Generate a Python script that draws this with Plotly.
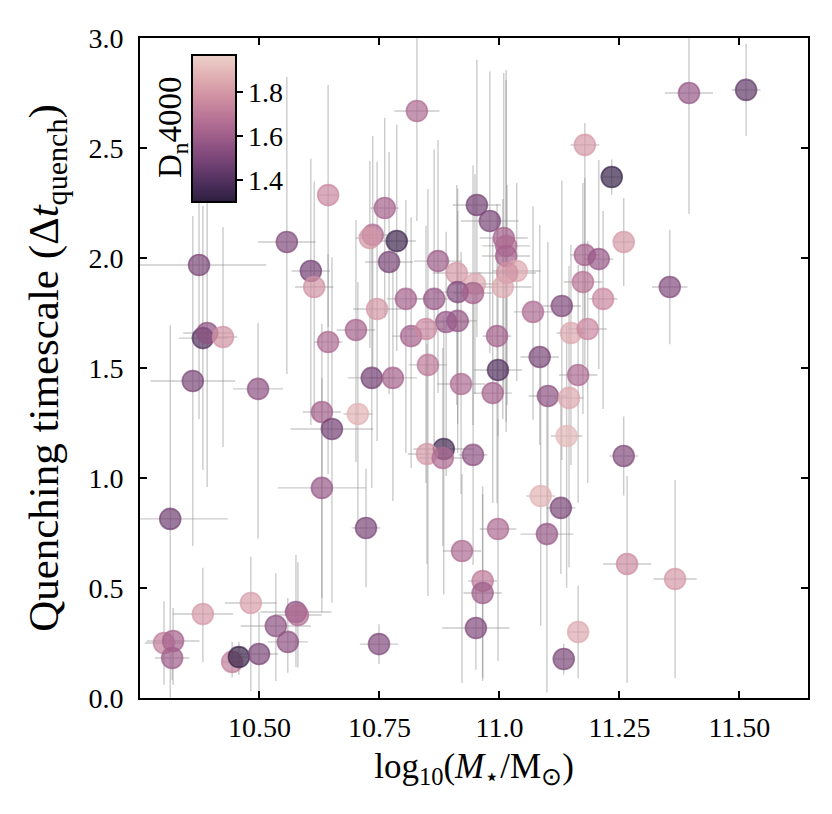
import numpy as np
import plotly.graph_objects as go

# ---- data ----
log_mass = [11.514, 11.395, 11.178, 11.234, 11.259, 11.355, 11.259, 11.266, 11.366, 10.734,
            10.778, 10.851, 10.997, 10.920, 10.986, 11.101, 11.145, 11.164, 11.084, 11.140,
            10.884, 10.849, 10.882, 10.945, 11.086, 11.128, 10.722, 10.997, 11.099, 10.922,
            10.965, 10.965, 10.951, 10.749, 11.134, 11.164, 10.361, 10.497, 10.630, 10.651,
            10.705, 10.630, 10.314, 10.382, 10.482, 10.576, 10.580, 10.534, 10.559, 10.301,
            10.320, 10.318, 10.443, 10.457, 10.499, 10.643, 10.557, 10.374, 10.607, 10.614,
            10.382, 10.391, 10.424, 10.643, 10.701, 10.828, 10.953, 10.980, 11.009, 11.014,
            11.014, 11.036, 11.016, 11.007, 10.761, 10.736, 10.730, 10.786, 10.770, 10.872,
            10.911, 10.949, 10.913, 10.945, 10.745, 10.805, 10.864, 10.889, 10.913, 10.816,
            10.847, 11.070, 11.130, 11.149, 10.995, 11.178, 11.207, 11.174, 11.216, 11.184]
t_quench = [2.764, 2.750, 2.514, 2.368, 2.073, 1.868, 1.100, 0.609, 0.541, 1.455,
            1.455, 1.514, 1.491, 1.427, 1.386, 1.373, 1.364, 1.468, 1.550, 1.191,
            1.132, 1.109, 1.091, 1.105, 0.918, 0.864, 0.773, 0.768, 0.745, 0.668,
            0.532, 0.477, 0.318, 0.245, 0.177, 0.300, 1.441, 1.405, 1.300, 1.223,
            1.291, 0.955, 0.814, 0.382, 0.432, 0.391, 0.377, 0.327, 0.255, 0.250,
            0.259, 0.182, 0.164, 0.186, 0.200, 2.286, 2.073, 1.968, 1.941, 1.868,
            1.636, 1.659, 1.641, 1.618, 1.673, 2.668, 2.241, 2.168, 2.091, 2.055,
            2.009, 1.941, 1.932, 1.868, 2.227, 2.105, 2.091, 2.077, 1.982, 1.986,
            1.932, 1.882, 1.845, 1.841, 1.768, 1.814, 1.814, 1.709, 1.714, 1.645,
            1.677, 1.755, 1.782, 1.659, 1.645, 2.014, 1.995, 1.891, 1.814, 1.677]
dn4000 = [1.44, 1.58, 1.80, 1.33, 1.80, 1.52, 1.52, 1.76, 1.80, 1.48,
          1.62, 1.70, 1.40, 1.65, 1.62, 1.55, 1.85, 1.65, 1.50, 1.90,
          1.36, 1.80, 1.65, 1.55, 1.88, 1.50, 1.50, 1.65, 1.58, 1.65,
          1.70, 1.60, 1.52, 1.52, 1.50, 1.85, 1.50, 1.55, 1.62, 1.48,
          1.88, 1.58, 1.47, 1.80, 1.82, 1.55, 1.66, 1.55, 1.55, 1.72,
          1.62, 1.60, 1.72, 1.33, 1.50, 1.75, 1.52, 1.50, 1.48, 1.78,
          1.40, 1.55, 1.78, 1.65, 1.62, 1.65, 1.48, 1.50, 1.62, 1.65,
          1.62, 1.85, 1.78, 1.85, 1.62, 1.65, 1.80, 1.35, 1.50, 1.60,
          1.80, 1.85, 1.52, 1.62, 1.80, 1.62, 1.58, 1.58, 1.58, 1.62,
          1.75, 1.65, 1.52, 1.85, 1.62, 1.62, 1.58, 1.68, 1.75, 1.75]
mass_err = [0.030, 0.050, 0.030, 0.020, 0.020, 0.037, 0.030, 0.050, 0.045, 0.050,
            0.050, 0.040, 0.050, 0.050, 0.040, 0.040, 0.030, 0.040, 0.040, 0.033,
            0.063, 0.040, 0.050, 0.030, 0.030, 0.030, 0.030, 0.038, 0.055, 0.040,
            0.030, 0.040, 0.070, 0.040, 0.020, 0.020, 0.088, 0.052, 0.040, 0.086,
            0.030, 0.092, 0.120, 0.063, 0.054, 0.074, 0.050, 0.073, 0.042, 0.040,
            0.055, 0.036, 0.020, 0.020, 0.040, 0.020, 0.060, 0.140, 0.040, 0.040,
            0.050, 0.050, 0.030, 0.030, 0.040, 0.047, 0.050, 0.060, 0.050, 0.050,
            0.050, 0.050, 0.060, 0.060, 0.030, 0.030, 0.030, 0.040, 0.050, 0.050,
            0.050, 0.050, 0.050, 0.040, 0.050, 0.040, 0.040, 0.050, 0.040, 0.040,
            0.040, 0.040, 0.040, 0.030, 0.030, 0.030, 0.030, 0.040, 0.030, 0.040]
t_err_low = [0.21, 0.55, 0.80, 0.08, 0.20, 0.26, 0.18, 0.54, 0.45, 0.50,
             0.56, 1.05, 0.30, 0.50, 0.50, 0.60, 0.77, 0.58, 0.40, 0.69,
             0.66, 0.50, 0.40, 0.50, 0.59, 0.30, 0.27, 0.60, 0.72, 0.60,
             0.44, 0.40, 0.19, 0.09, 0.07, 0.21, 0.75, 0.68, 0.91, 0.79,
             0.50, 0.50, 0.85, 0.22, 0.40, 0.25, 0.24, 0.25, 0.14, 0.19,
             0.20, 0.10, 0.07, 0.08, 0.20, 0.60, 0.60, 0.70, 0.70, 0.60,
             0.60, 0.70, 0.50, 0.60, 0.60, 0.50, 0.60, 0.60, 0.70, 0.80,
             0.80, 0.50, 0.60, 0.60, 0.50, 0.60, 0.50, 0.50, 0.60, 0.60,
             0.60, 0.50, 0.60, 0.60, 0.60, 0.70, 0.70, 0.70, 0.60, 0.60,
             0.70, 0.49, 0.70, 0.60, 0.76, 0.50, 0.50, 0.60, 0.50, 0.70]
t_err_high = [0.21, 0.30, 0.10, 0.08, 0.20, 0.26, 0.18, 0.40, 0.45, 0.60,
              0.50, 0.80, 0.70, 0.60, 0.70, 0.70, 0.60, 0.50, 0.60, 0.50,
              0.60, 0.50, 0.50, 0.70, 0.60, 0.50, 0.27, 0.50, 0.60, 0.35,
              0.43, 0.45, 0.20, 0.09, 0.07, 0.21, 0.75, 0.30, 0.40, 0.78,
              0.60, 0.50, 0.88, 0.21, 0.21, 0.26, 0.24, 0.24, 0.20, 0.19,
              0.15, 0.10, 0.09, 0.07, 0.19, 0.50, 0.75, 0.40, 0.51, 0.48,
              0.60, 0.60, 0.50, 0.40, 0.50, 0.40, 0.66, 0.68, 0.75, 0.80,
              0.80, 0.40, 0.40, 0.40, 0.41, 0.45, 0.35, 0.53, 0.50, 0.55,
              0.40, 0.50, 0.47, 0.58, 0.67, 0.45, 0.68, 0.41, 0.50, 0.54,
              0.47, 0.48, 0.57, 0.40, 0.60, 0.35, 0.45, 0.45, 0.40, 0.40]

x_tickvals = [10.5, 10.75, 11.0, 11.25, 11.5]
x_ticktext = ["10.50", "10.75", "11.0", "11.25", "11.50"]
y_tickvals = [0.0, 0.5, 1.0, 1.5, 2.0, 2.5, 3.0]
y_ticktext = ["0.0", "0.5", "1.0", "1.5", "2.0", "2.5", "3.0"]
cb_tickvals = [1.4, 1.6, 1.8]
cb_ticktext = ["1.4", "1.6", "1.8"]
c_min, c_max = 1.30, 1.97


# ---- seaborn-style cubehelix colormap (dark -> light) ----
def cubehelix(x, gamma=1.0, s=0.0, r=0.4, h=0.8):
    xg = x ** gamma
    a = h * xg * (1 - xg) / 2
    phi = 2 * np.pi * (s / 3 + r * x)
    R = xg + a * (-0.14861 * np.cos(phi) + 1.78277 * np.sin(phi))
    G = xg + a * (-0.29227 * np.cos(phi) - 0.90649 * np.sin(phi))
    B = xg + a * (1.97294 * np.cos(phi))
    return [int(round(255 * min(max(v, 0), 1))) for v in (R, G, B)]


stops = np.linspace(0, 1, 21)
cols = [cubehelix(0.15 + 0.70 * t) for t in stops]
colorscale = [[float(t), "rgb(%d,%d,%d)" % tuple(c)] for t, c in zip(stops, cols)]


def color_of(v, alpha):
    t = (v - c_min) / (c_max - c_min)
    t = min(max(t, 0), 1)
    c = cubehelix(0.15 + 0.70 * t)
    return "rgba(%d,%d,%d,%.2f)" % (c[0], c[1], c[2], alpha)


fill_cols = [color_of(v, 0.70) for v in dn4000]
line_cols = [color_of(v, 0.70) for v in dn4000]

FONT = "Liberation Serif"

# page offset (body margin) compensation: target plot box 140..808 x 38..698
OFF = 8
L, R, T, B = 140 - OFF, 832 - 808 + OFF, 38 - OFF, 814 - 698 + OFF
PW, PH = 808 - 140, 698 - 38


def px2paper_x(px):
    return (px - 140) / PW


def px2paper_y(py):
    return (698 - py) / PH


fig = go.Figure()
# error bars
fig.add_trace(go.Scatter(
    x=log_mass, y=t_quench, mode="markers",
    marker=dict(size=1, color="rgba(0,0,0,0)"),
    error_x=dict(type="data", array=mass_err, color="rgba(140,140,140,0.45)",
                 thickness=1.4, width=0),
    error_y=dict(type="data", array=t_err_high, arrayminus=t_err_low,
                 color="rgba(140,140,140,0.45)", thickness=1.4, width=0),
    hoverinfo="skip", showlegend=False))
# points
fig.add_trace(go.Scatter(
    x=log_mass, y=t_quench, mode="markers",
    marker=dict(size=21, color=fill_cols, line=dict(color=line_cols, width=1.6)),
    showlegend=False))
# colorbar carrier
fig.add_trace(go.Scatter(
    x=[None], y=[None], mode="markers", showlegend=False,
    marker=dict(color=[c_min], cmin=c_min, cmax=c_max, colorscale=colorscale,
                showscale=True,
                colorbar=dict(
                    x=px2paper_x(192), xanchor="left", xpad=0,
                    y=px2paper_y(55), yanchor="top", ypad=0,
                    len=147, lenmode="pixels", thickness=44,
                    outlinecolor="black", outlinewidth=2,
                    tickvals=cb_tickvals, ticktext=cb_ticktext,
                    ticks="outside", ticklen=6, tickwidth=1.5, tickcolor="black",
                    tickfont=dict(family=FONT, size=28, color="black"),
                ))))

fig.update_layout(
    width=832, height=814,
    margin=dict(l=L, r=R, t=T, b=B),
    paper_bgcolor="white", plot_bgcolor="white",
    font=dict(family=FONT, color="black"),
    xaxis=dict(range=[10.251, 11.643], tickvals=x_tickvals, ticktext=x_ticktext,
               showgrid=False, zeroline=False, showline=True, linecolor="black",
               linewidth=2, mirror="allticks", ticks="inside", ticklen=7,
               tickwidth=1.6, tickcolor="black",
               tickfont=dict(family=FONT, size=28), ticklabelstandoff=3,
               title=dict(text="log<sub>10</sub>(<i>M</i><sub>⋆</sub>/M<sub>⊙</sub>)",
                          font=dict(family=FONT, size=35), standoff=12)),
    yaxis=dict(range=[0, 3.0], tickvals=y_tickvals, ticktext=y_ticktext,
               showgrid=False, zeroline=False, showline=True, linecolor="black",
               linewidth=2, mirror="allticks", ticks="inside", ticklen=7,
               tickwidth=1.6, tickcolor="black",
               tickfont=dict(family=FONT, size=28), ticklabelstandoff=9,
               title=dict(text="Quenching timescale (Δ<i>t</i><sub>quench</sub>)",
                          font=dict(family=FONT, size=43), standoff=16)),
    annotations=[dict(text="D<sub>n</sub>4000", textangle=-90,
                      x=px2paper_x(172), y=px2paper_y(128),
                      xanchor="center", yanchor="middle",
                      xref="paper", yref="paper", showarrow=False,
                      font=dict(family=FONT, size=33, color="black"))],
)

fig.write_html("out.html")
